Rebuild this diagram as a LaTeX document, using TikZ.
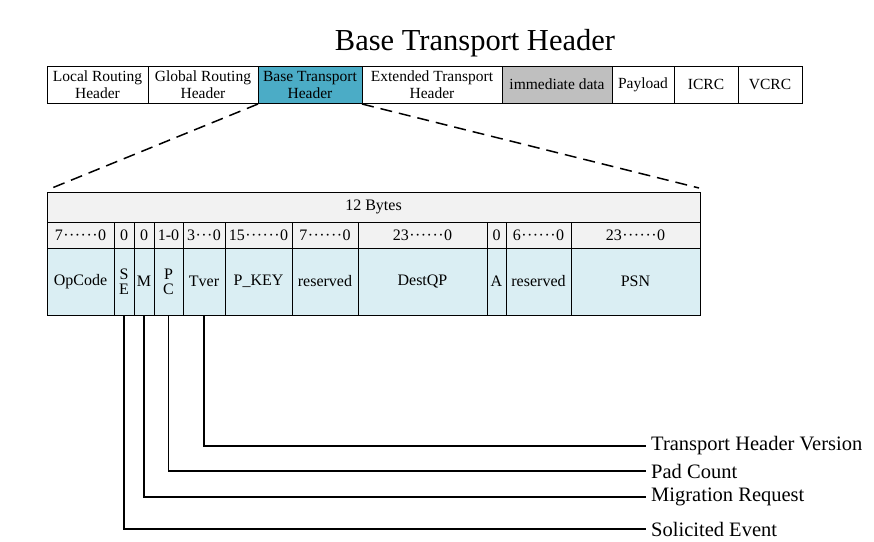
\documentclass[tikz,border=0pt]{standalone}
\usepackage{fontspec}
\setmainfont{Liberation Serif}
\usetikzlibrary{positioning}

\definecolor{btblue}{HTML}{4BACC6}
\definecolor{imgray}{HTML}{BFBFBF}
\definecolor{rowgray}{HTML}{F2F2F2}
\definecolor{rowblue}{HTML}{DAEEF3}

% точки в диапазонах битов
\newcommand{\dsix}{\hbox to 2.2em{\hss·\hss·\hss·\hss·\hss·\hss·\hss}}
\newcommand{\dthree}{\hbox to 1.1em{\hss·\hss·\hss·\hss}}

\begin{document}
\begin{tikzpicture}[
    x=1pt, y=-1pt,
    % Верхняя строка пакета
    pkt/.style={draw, line width=1pt, minimum height=37pt, inner sep=1pt, outer sep=0pt, align=center, font=\fontsize{15.5}{17}\selectfont},
    % Ячейки таблицы
    cell/.style={draw, line width=1pt, inner sep=1pt, outer sep=0pt, align=center, font=\fontsize{16}{15}\selectfont},
    bits/.style={cell, fill=rowgray, minimum height=26pt},
    fld/.style={cell, fill=rowblue, minimum height=67pt},
    % Выноски и подписи
    lead/.style={line width=1.2pt},
    lbl/.style={anchor=west, inner sep=0pt, font=\fontsize{20.5}{24}\selectfont},
    zoomline/.style={line width=1.5pt, dash pattern=on 12pt off 7pt}
]
    \useasboundingbox[fill=white] (0,0) rectangle (874,541);

    % Заголовок
    \node[font=\fontsize{30.5}{36}\selectfont] (title) at (475,43) {Base Transport Header};

    % Пакет
    \node[pkt, minimum width=101pt, anchor=west] (lrh) at (47,84.5) {Local Routing\\Header};
    \node[pkt, minimum width=110pt, right=0pt of lrh] (grh) {Global Routing\\Header};
    \node[pkt, minimum width=104pt, fill=btblue, right=0pt of grh] (bth) {Base Transport\\Header};
    \node[pkt, minimum width=140pt, right=0pt of bth] (eth) {Extended Transport\\Header};
    \node[pkt, minimum width=110pt, fill=imgray, right=0pt of eth] (imm) {immediate data};
    \node[pkt, minimum width=62pt, right=0pt of imm] (pay) {Payload};
    \node[pkt, minimum width=64pt, right=0pt of pay] (icrc) {ICRC};
    \node[pkt, minimum width=64pt, right=0pt of icrc] (vcrc) {VCRC};

    % Таблица BTH
    \node[bits, minimum width=653pt, minimum height=30pt, anchor=north west] (bytes) at (47,192) {12 Bytes};

    % Биты
    \node[bits, minimum width=67pt, below=0pt of bytes.south west, anchor=north west] (bop) {7\dsix0};
    \node[bits, minimum width=20pt, right=0pt of bop] (bse) {0};
    \node[bits, minimum width=20pt, right=0pt of bse] (bm) {0};
    \node[bits, minimum width=29pt, right=0pt of bm] (bpc) {1-0};
    \node[bits, minimum width=42pt, right=0pt of bpc] (btv) {3\dthree0};
    \node[bits, minimum width=67pt, right=0pt of btv] (bpk) {15\dsix0};
    \node[bits, minimum width=66pt, right=0pt of bpk] (brs) {7\dsix0};
    \node[bits, minimum width=129pt, right=0pt of brs] (bdq) {23\dsix0};
    \node[bits, minimum width=19pt, right=0pt of bdq] (ba) {0};
    \node[bits, minimum width=65pt, right=0pt of ba] (brt) {6\dsix0};
    \node[bits, minimum width=129pt, right=0pt of brt] (bpsn) {23\dsix0};

    % Поля
    \node[fld, minimum width=67pt, below=0pt of bop] (fop) {OpCode};
    \node[fld, minimum width=20pt, below=0pt of bse] (fse) {S\\E};
    \node[fld, minimum width=20pt, below=0pt of bm] (fm) {M};
    \node[fld, minimum width=29pt, below=0pt of bpc] (fpc) {P\\C};
    \node[fld, minimum width=42pt, below=0pt of btv] (ftv) {Tver};
    \node[fld, minimum width=67pt, below=0pt of bpk] (fpk) {P\_KEY};
    \node[fld, minimum width=66pt, below=0pt of brs] (frs) {reserved};
    \node[fld, minimum width=129pt, below=0pt of bdq] (fdq) {DestQP};
    \node[fld, minimum width=19pt, below=0pt of ba] (fa) {A};
    \node[fld, minimum width=65pt, below=0pt of brt] (frt) {reserved};
    \node[fld, minimum width=129pt, below=0pt of bpsn] (fpsn) {PSN};

    % Раскрытие заголовка
    \coordinate (zl) at ([shift={(5,-4)}]bytes.north west);
    \coordinate (zr) at ([shift={(-1,-4)}]bytes.north east);
    \draw[zoomline] ([yshift=-1pt]bth.south west) -- (zl);
    \draw[zoomline] ([yshift=-1pt]bth.south east) -- (zr);

    % Подписи
    \node[lbl] (ltv) at (651,446) {Transport Header Version};
    \node[lbl] (lpc) at (651,471) {Pad Count};
    \node[lbl] (lm) at (651,497) {Migration Request};
    \node[lbl] (lse) at (651,529) {Solicited Event};

    \draw[lead] (ftv.south) |- ([xshift=-5pt]ltv.west);
    \draw[lead] (fpc.south) |- ([xshift=-5pt]lpc.west);
    \draw[lead] (fm.south) |- ([xshift=-5pt]lm.west);
    \draw[lead] (fse.south) |- ([xshift=-5pt]lse.west);

\end{tikzpicture}
\end{document}
